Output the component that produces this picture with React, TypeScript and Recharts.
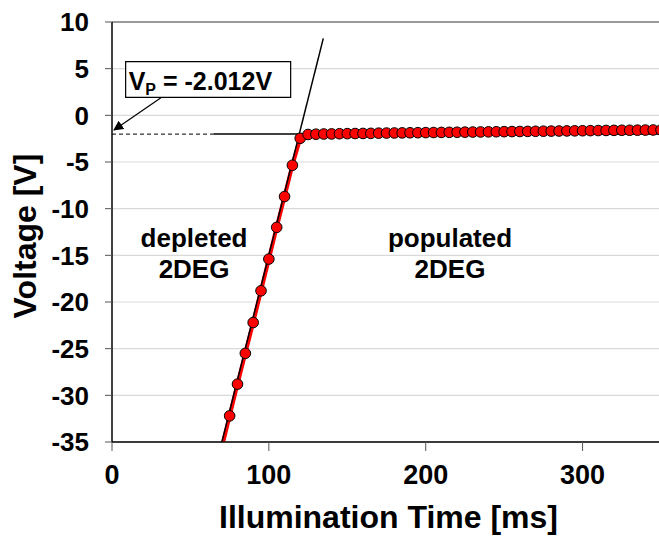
import {
  LineChart,
  Line,
  XAxis,
  YAxis,
  CartesianGrid,
  ReferenceLine,
  ReferenceArea,
  ReferenceDot,
} from 'recharts';

const times = [
  70, 75, 80, 85, 90, 95, 100, 105, 110, 115, 120, 125, 130, 135, 140, 145, 150, 155, 160, 165,
  170, 175, 180, 185, 190, 195, 200, 205, 210, 215, 220, 225, 230, 235, 240, 245, 250, 255, 260,
  265, 270, 275, 280, 285, 290, 295, 300, 305, 310, 315, 320, 325, 330, 335, 340, 345, 350,
];
const voltages = [
  -35.6, -32.2, -28.8, -25.5, -22.2, -18.8, -15.4, -12.0, -8.7, -5.35, -2.46, -2.05, -2.02, -2.0,
  -1.99, -1.97, -1.96, -1.95, -1.94, -1.93, -1.91, -1.9, -1.89, -1.88, -1.87, -1.86, -1.85, -1.84,
  -1.83, -1.82, -1.81, -1.8, -1.79, -1.78, -1.77, -1.76, -1.75, -1.74, -1.73, -1.72, -1.71, -1.7,
  -1.69, -1.68, -1.67, -1.66, -1.65, -1.64, -1.63, -1.62, -1.61, -1.6, -1.6, -1.59, -1.58, -1.57,
  -1.56,
];

// linear fits and the guide to the axis
const steepFitTimes = [69.9, 134.7];
const steepFitVolts = [-35.1, 8.25];
const plateauFitTimes = [64.6, 350];
const plateauFitVolts = [-2.012, -2.012];
const guideTimes = [0, 64.6];
const guideVolts = [-2.012, -2.012];

const xTicks = [0, 100, 200, 300];
const yTicks = [-35, -30, -25, -20, -15, -10, -5, 0, 5, 10];

const vpText = '= -2.012V';
const regionNotes = [
  { t: 52.3, v: -14.07, lines: ['depleted', '2DEG'] },
  { t: 215.5, v: -14.07, lines: ['populated', '2DEG'] },
];

const FONT = '"Liberation Sans", Arial, sans-serif';

const measured = times.map((t, i) => ({ t, v: voltages[i] }));
const steepFit = steepFitTimes.map((t, i) => ({ t, v: steepFitVolts[i] }));
const plateauFit = plateauFitTimes.map((t, i) => ({ t, v: plateauFitVolts[i] }));
const guide = guideTimes.map((t, i) => ({ t, v: guideVolts[i] }));

const xTickText = { fontSize: 27, fontWeight: 700, fill: '#000', fontFamily: FONT };
const yTickText = { fontSize: 26, fontWeight: 700, fill: '#000', fontFamily: FONT };

function YTitle({ viewBox }: any) {
  const x = 36;
  const y = viewBox.y + viewBox.height / 2 + 4;
  return (
    <text
      x={x}
      y={y}
      transform={`rotate(-90 ${x} ${y})`}
      textAnchor="middle"
      fontSize={32}
      fontWeight={700}
      fontFamily={FONT}
      fill="#000"
    >
      Voltage [V]
    </text>
  );
}

function XTitle({ viewBox }: any) {
  return (
    <text
      x={viewBox.x + viewBox.width / 2 + 2}
      y={528}
      textAnchor="middle"
      fontSize={32}
      fontWeight={700}
      fontFamily={FONT}
      fill="#000"
    >
      Illumination Time [ms]
    </text>
  );
}

function VpLabel({ viewBox }: any) {
  return (
    <text x={viewBox.x + 3} y={viewBox.y + 28.5} fontFamily={FONT} fontWeight={700} fill="#000">
      <tspan fontSize={25}>V</tspan>
      <tspan fontSize={16} dy={5}>P</tspan>
      <tspan fontSize={25} dy={-5}> {vpText}</tspan>
    </text>
  );
}

function noteContent(lines: string[]) {
  return ({ viewBox }: any) => {
    const cx = viewBox.x + viewBox.width / 2;
    const cy = viewBox.y + viewBox.height / 2;
    return (
      <text textAnchor="middle" fontSize={26} fontWeight={700} fontFamily={FONT} fill="#000">
        {lines.map((s, i) => (
          <tspan key={i} x={cx} y={cy + i * 31.3}>
            {s}
          </tspan>
        ))}
      </text>
    );
  };
}

export default function App() {
  return (
    <div
      style={{
        position: 'absolute',
        left: 0,
        top: 0,
        width: 659,
        height: 537,
        overflow: 'hidden',
        background: '#fff',
      }}
    >
      <LineChart
        width={661}
        height={537}
        margin={{ top: 22, right: 0, bottom: 0, left: 0 }}
        style={{ fontFamily: FONT }}
      >
        <defs>
          <marker
            id="arrowHead"
            viewBox="0 0 10 10"
            refX="9"
            refY="5"
            markerWidth="10"
            markerHeight="10"
            orient="auto"
            markerUnits="userSpaceOnUse"
          >
            <path d="M0,0 L10,5 L0,10 z" fill="#000" />
          </marker>
        </defs>
        <CartesianGrid vertical={false} stroke="#d9d9d9" strokeWidth={1.2} />
        <XAxis
          type="number"
          dataKey="t"
          domain={[0, 350]}
          ticks={xTicks}
          allowDataOverflow
          height={95}
          axisLine={{ stroke: '#000', strokeWidth: 1.5 }}
          tickLine={{ stroke: '#555', strokeWidth: 1 }}
          tickSize={9}
          tickMargin={14}
          tick={xTickText}
          label={<XTitle />}
        />
        <YAxis
          type="number"
          domain={[-35, 10]}
          ticks={yTicks}
          allowDataOverflow
          width={112}
          axisLine={{ stroke: '#000', strokeWidth: 1.5 }}
          tickLine={{ stroke: '#555', strokeWidth: 1 }}
          tickSize={7}
          tickMargin={16}
          tick={yTickText}
          label={<YTitle />}
        />
        <ReferenceLine y={10} stroke="#7f7f7f" strokeWidth={1.5} />
        <Line
          data={guide}
          dataKey="v"
          stroke="#000"
          strokeWidth={1}
          strokeDasharray="4 3"
          dot={false}
          activeDot={false}
          isAnimationActive={false}
        />
        <Line
          data={measured}
          dataKey="v"
          type="linear"
          stroke="#ff0000"
          strokeWidth={4}
          dot={{ r: 5.3, fill: '#ff0000', stroke: '#000', strokeWidth: 1 }}
          activeDot={false}
          isAnimationActive={false}
        />
        <Line
          data={plateauFit}
          dataKey="v"
          stroke="#000"
          strokeWidth={1.5}
          dot={false}
          activeDot={false}
          isAnimationActive={false}
        />
        <Line
          data={steepFit}
          dataKey="v"
          stroke="#000"
          strokeWidth={1.5}
          dot={false}
          activeDot={false}
          isAnimationActive={false}
        />
        <ReferenceArea
          x1={8.7}
          x2={113.9}
          y1={1.93}
          y2={5.75}
          fill="#fff"
          fillOpacity={1}
          stroke="#000"
          strokeWidth={1.2}
          label={<VpLabel />}
        />
        <ReferenceLine
          segment={[
            { x: 31.2, y: 1.89 },
            { x: 1.3, y: -1.57 },
          ]}
          shape={(p: any) => (
            <line
              x1={p.x1}
              y1={p.y1}
              x2={p.x2}
              y2={p.y2}
              stroke="#000"
              strokeWidth={1.2}
              markerEnd="url(#arrowHead)"
            />
          )}
        />
        {regionNotes.map((n) => (
          <ReferenceDot
            key={n.lines[0]}
            x={n.t}
            y={n.v}
            r={0}
            fill="none"
            stroke="none"
            label={noteContent(n.lines)}
          />
        ))}
      </LineChart>
    </div>
  );
}
